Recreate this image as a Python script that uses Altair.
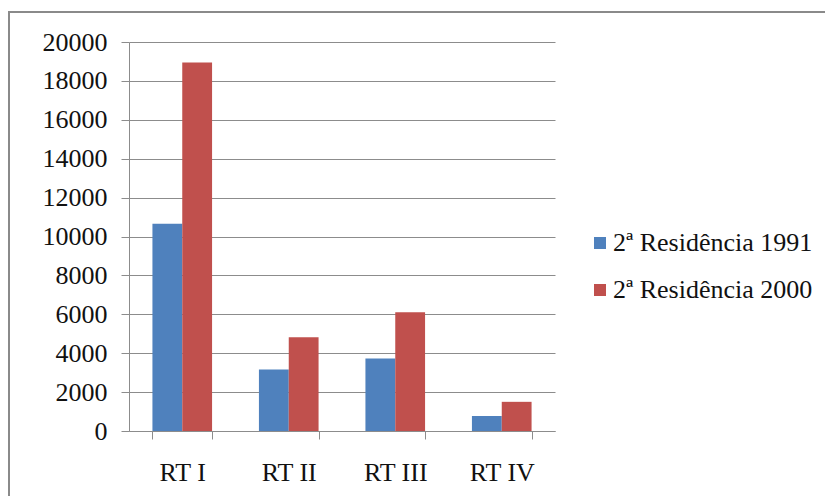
import altair as alt
import pandas as pd

categories = ["RT I", "RT II", "RT III", "RT IV"]
series = ["2ª Residência 1991", "2ª Residência 2000"]
v1991 = [10650, 3160, 3730, 770]
v2000 = [18950, 4820, 6100, 1500]
y_ticks = [0, 2000, 4000, 6000, 8000, 10000, 12000, 14000, 16000, 18000, 20000]

rows = []
for c, a, b in zip(categories, v1991, v2000):
    rows.append({"cat": c, "serie": series[0], "valor": a})
    rows.append({"cat": c, "serie": series[1], "valor": b})
df = pd.DataFrame(rows)

FONT = "Times New Roman, Liberation Serif, serif"
GRID = "#8c8c8c"
TXT = "#111111"

bars = alt.Chart(df).mark_bar().encode(
    x=alt.X("cat:N", sort=categories,
            scale=alt.Scale(paddingInner=0.44, paddingOuter=0.22),
            axis=alt.Axis(title=None, labelAngle=0, tickBand="extent", tickSize=8,
                          domainColor=GRID, tickColor=GRID, grid=False,
                          labelPadding=20, labelFont=FONT, labelFontSize=26,
                          labelColor=TXT)),
    xOffset=alt.XOffset("serie:N", sort=series),
    y=alt.Y("valor:Q", scale=alt.Scale(domain=[0, 20000], nice=False),
            axis=alt.Axis(title=None, values=y_ticks, format="d", grid=True,
                          gridColor=GRID, domainColor=GRID, tickColor=GRID,
                          tickSize=8, labelPadding=14, labelFont=FONT,
                          labelFontSize=26, labelColor=TXT)),
    color=alt.Color("serie:N", sort=series,
                    scale=alt.Scale(domain=series, range=["#4F81BD", "#C0504D"]),
                    legend=alt.Legend(title=None, orient="none", legendX=458, legendY=188,
                                      symbolType="square", symbolSize=144,
                                      symbolStrokeWidth=0, labelFont=FONT,
                                      labelFontSize=26, labelColor=TXT,
                                      labelLimit=500,
                                      rowPadding=21, labelOffset=0,
                                      padding=0)),
)

top_rule = alt.Chart(df).mark_rule(color="#8a8a8a", strokeWidth=2).encode(
    x=alt.value(-121), x2=alt.value(800), y=alt.value(-30)
)
left_rule = alt.Chart(df).mark_rule(color="#8a8a8a", strokeWidth=2).encode(
    x=alt.value(-120), y=alt.value(-30), y2=alt.value(470)
)

chart = alt.layer(bars, top_rule, left_rule).properties(
    width=426, height=389,
    autosize=alt.AutoSizeParams(type="none"),
    padding={"left": 121, "top": 34, "right": 270, "bottom": 65},
).configure_view(strokeWidth=0).configure_legend(labelFont=FONT, labelLimit=500)

chart.save("out.html", embed_options={"renderer": "svg", "actions": False})
